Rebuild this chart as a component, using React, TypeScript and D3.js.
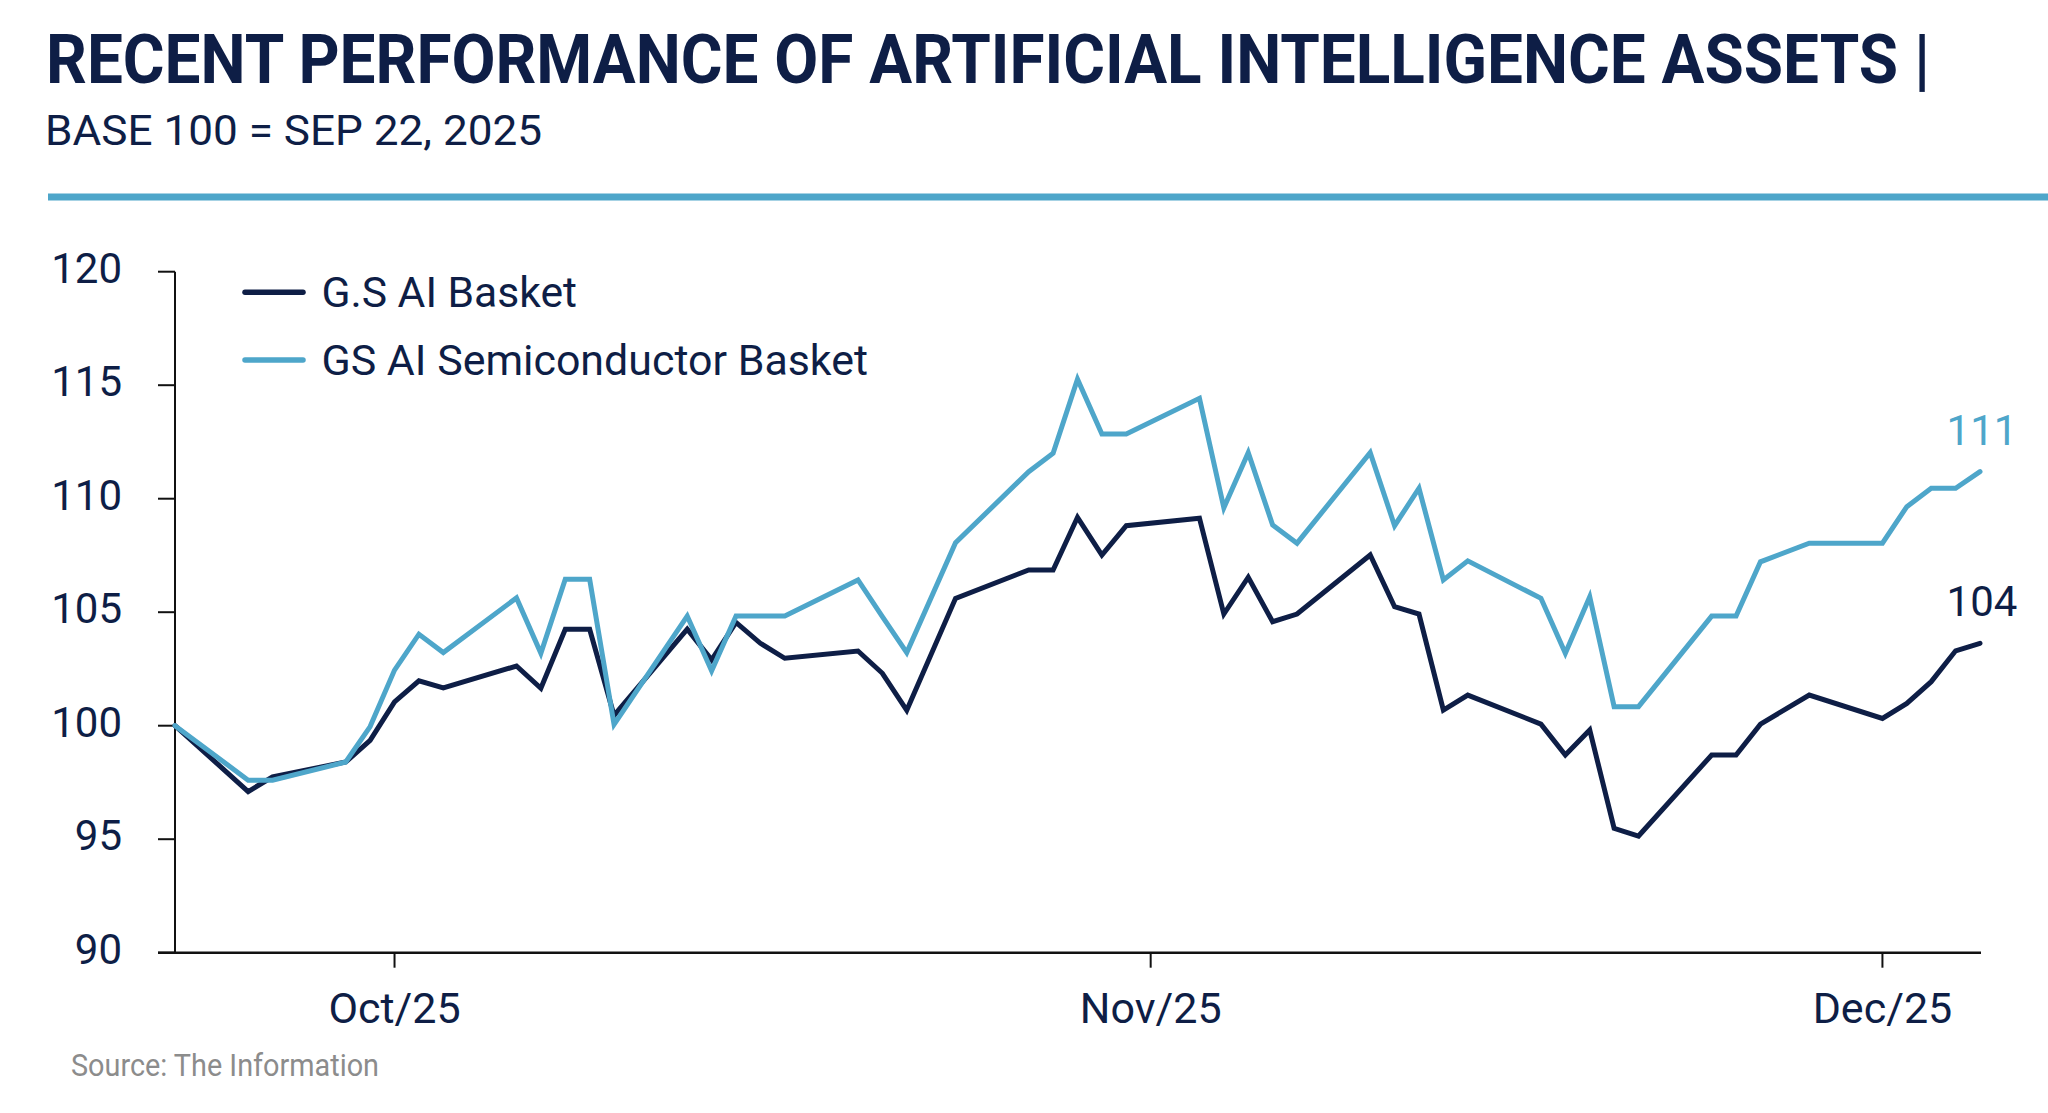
import React from "react";
import * as d3 from "d3";

const dates: string[] = [
  "2025-09-22", "2025-09-25", "2025-09-26", "2025-09-29", "2025-09-30",
  "2025-10-01", "2025-10-02", "2025-10-03", "2025-10-06", "2025-10-07",
  "2025-10-08", "2025-10-09", "2025-10-10", "2025-10-13", "2025-10-14",
  "2025-10-15", "2025-10-16", "2025-10-17", "2025-10-20", "2025-10-21",
  "2025-10-22", "2025-10-24", "2025-10-27", "2025-10-28", "2025-10-29",
  "2025-10-30", "2025-10-31", "2025-11-03", "2025-11-04", "2025-11-05",
  "2025-11-06", "2025-11-07", "2025-11-10", "2025-11-11", "2025-11-12",
  "2025-11-13", "2025-11-14", "2025-11-17", "2025-11-18", "2025-11-19",
  "2025-11-20", "2025-11-21", "2025-11-24", "2025-11-25", "2025-11-26",
  "2025-11-28", "2025-12-01", "2025-12-02", "2025-12-03", "2025-12-04",
  "2025-12-05",
];

const gsAiBasket: number[] = [
  100, 97.1, 97.75, 98.4, 99.35, 101.05, 101.98, 101.67, 102.63, 101.65,
  104.25, 104.25, 100.45, 104.25, 102.9, 104.55, 103.63, 102.97, 103.29, 102.31,
  100.68, 105.61, 106.86, 106.86, 109.18, 107.52, 108.81, 109.14, 104.92, 106.54,
  104.58, 104.92, 107.52, 105.24, 104.92, 100.69, 101.35, 100.07, 98.71, 99.81,
  95.48, 95.14, 98.71, 98.71, 100.07, 101.35, 100.32, 100.98, 101.94, 103.3,
  103.63,
];

const gsAiSemiBasket: number[] = [
  100, 97.6, 97.6, 98.4, 99.96, 102.45, 104.03, 103.22, 105.63, 103.19,
  106.45, 106.45, 100.06, 104.83, 102.42, 104.83, 104.83, 104.83, 106.42, 104.8,
  103.22, 108.06, 111.19, 112.0, 115.26, 112.85, 112.85, 114.42, 109.6, 112.03,
  108.84, 108.04, 112.03, 108.81, 110.46, 106.42, 107.26, 105.61, 103.19, 105.68,
  100.84, 100.84, 104.83, 104.83, 107.22, 108.04, 108.04, 109.65, 110.46, 110.46,
  111.19,
];

const seriesNames: string[] = ["G.S AI Basket", "GS AI Semiconductor Basket"];
const yTicks: number[] = [90, 95, 100, 105, 110, 115, 120];

const NAVY = "#0e1e46";
const BLUE = "#4ea6ca";
const FONT = "Roboto, 'Open Sans', sans-serif";

export default function App() {
  const parse = d3.timeParse("%Y-%m-%d");
  const xDates = dates.map((d) => parse(d) as Date);

  const x = d3
    .scaleTime()
    .domain([xDates[0], xDates[xDates.length - 1]])
    .range([175, 1980]);
  const y = d3.scaleLinear().domain([90, 120]).range([952.7, 271.7]);

  const series = [
    { name: seriesNames[0], values: gsAiBasket, color: NAVY },
    { name: seriesNames[1], values: gsAiSemiBasket, color: BLUE },
  ];

  const line = d3
    .line<number>()
    .x((_, i) => x(xDates[i]))
    .y((v) => y(v));

  const monthTicks = x.ticks(d3.timeMonth.every(1) as any);
  const fmt = d3.timeFormat("%b/%y");

  const titleScale = 0.82;

  return (
    <div style={{ position: "absolute", left: 0, top: 0 }}>
      <svg width={2048} height={1113} style={{ display: "block", background: "#fff" }}>
        <g transform={`translate(46,83) scale(${titleScale},1)`}>
          <text
            x={0}
            y={0}
            fontFamily={FONT}
            fontWeight={700}
            fontSize={68}
            fill={NAVY}
            textLength={1884 / titleScale}
            lengthAdjust="spacingAndGlyphs"
          >
            RECENT PERFORMANCE OF ARTIFICIAL INTELLIGENCE ASSETS |
          </text>
        </g>
        <text
          x={45}
          y={145}
          fontFamily={FONT}
          fontSize={43}
          fill={NAVY}
          textLength={497}
          lengthAdjust="spacingAndGlyphs"
        >
          BASE 100 = SEP 22, 2025
        </text>
        <rect x={48} y={193.5} width={2000} height={7} fill={BLUE} />

        {/* y axis */}
        <line x1={175} x2={175} y1={y(120)} y2={y(90)} stroke="#111" strokeWidth={2} />
        {yTicks.map((t) => (
          <g key={t}>
            <line x1={158} x2={175} y1={y(t)} y2={y(t)} stroke="#111" strokeWidth={2} />
            <text
              x={122}
              y={y(t) + 11}
              textAnchor="end"
              fontFamily={FONT}
              fontSize={42}
              fill={NAVY}
            >
              {t}
            </text>
          </g>
        ))}

        {/* x axis */}
        <line x1={158} x2={1981} y1={y(90)} y2={y(90)} stroke="#111" strokeWidth={2.5} />
        {monthTicks.map((d) => (
          <g key={d.toISOString()}>
            <line x1={x(d)} x2={x(d)} y1={y(90)} y2={y(90) + 15} stroke="#111" strokeWidth={2} />
            <text
              x={x(d)}
              y={1023}
              textAnchor="middle"
              fontFamily={FONT}
              fontSize={43}
              fill={NAVY}
            >
              {fmt(d)}
            </text>
          </g>
        ))}

        {/* lines */}
        {series.map((s) => (
          <path
            key={s.name}
            d={line(s.values) || ""}
            fill="none"
            stroke={s.color}
            strokeWidth={5}
            strokeLinejoin="miter"
            strokeLinecap="round"
          />
        ))}

        {/* end labels */}
        {series.map((s) => {
          const last = s.values[s.values.length - 1];
          return (
            <text
              key={"lbl" + s.name}
              x={x(xDates[xDates.length - 1]) + 2}
              y={y(last) - 27}
              textAnchor="middle"
              fontFamily={FONT}
              fontSize={42}
              fill={s.color}
            >
              {Math.round(last)}
            </text>
          );
        })}

        {/* legend */}
        {series.map((s, i) => (
          <g key={"leg" + s.name}>
            <line
              x1={245}
              x2={303}
              y1={292.3 + i * 67.7}
              y2={292.3 + i * 67.7}
              stroke={s.color}
              strokeWidth={5.5}
              strokeLinecap="round"
            />
            <text
              x={321.5}
              y={307.3 + i * 67.7}
              fontFamily={FONT}
              fontSize={43}
              fill={NAVY}
              textLength={i === 0 ? 255.5 : 546.5}
              lengthAdjust="spacingAndGlyphs"
            >
              {s.name}
            </text>
          </g>
        ))}

        <text
          x={71}
          y={1075.5}
          fontFamily={FONT}
          fontSize={31}
          fill="#8c8c8c"
          textLength={308}
          lengthAdjust="spacingAndGlyphs"
        >
          Source: The Information
        </text>
      </svg>
    </div>
  );
}
